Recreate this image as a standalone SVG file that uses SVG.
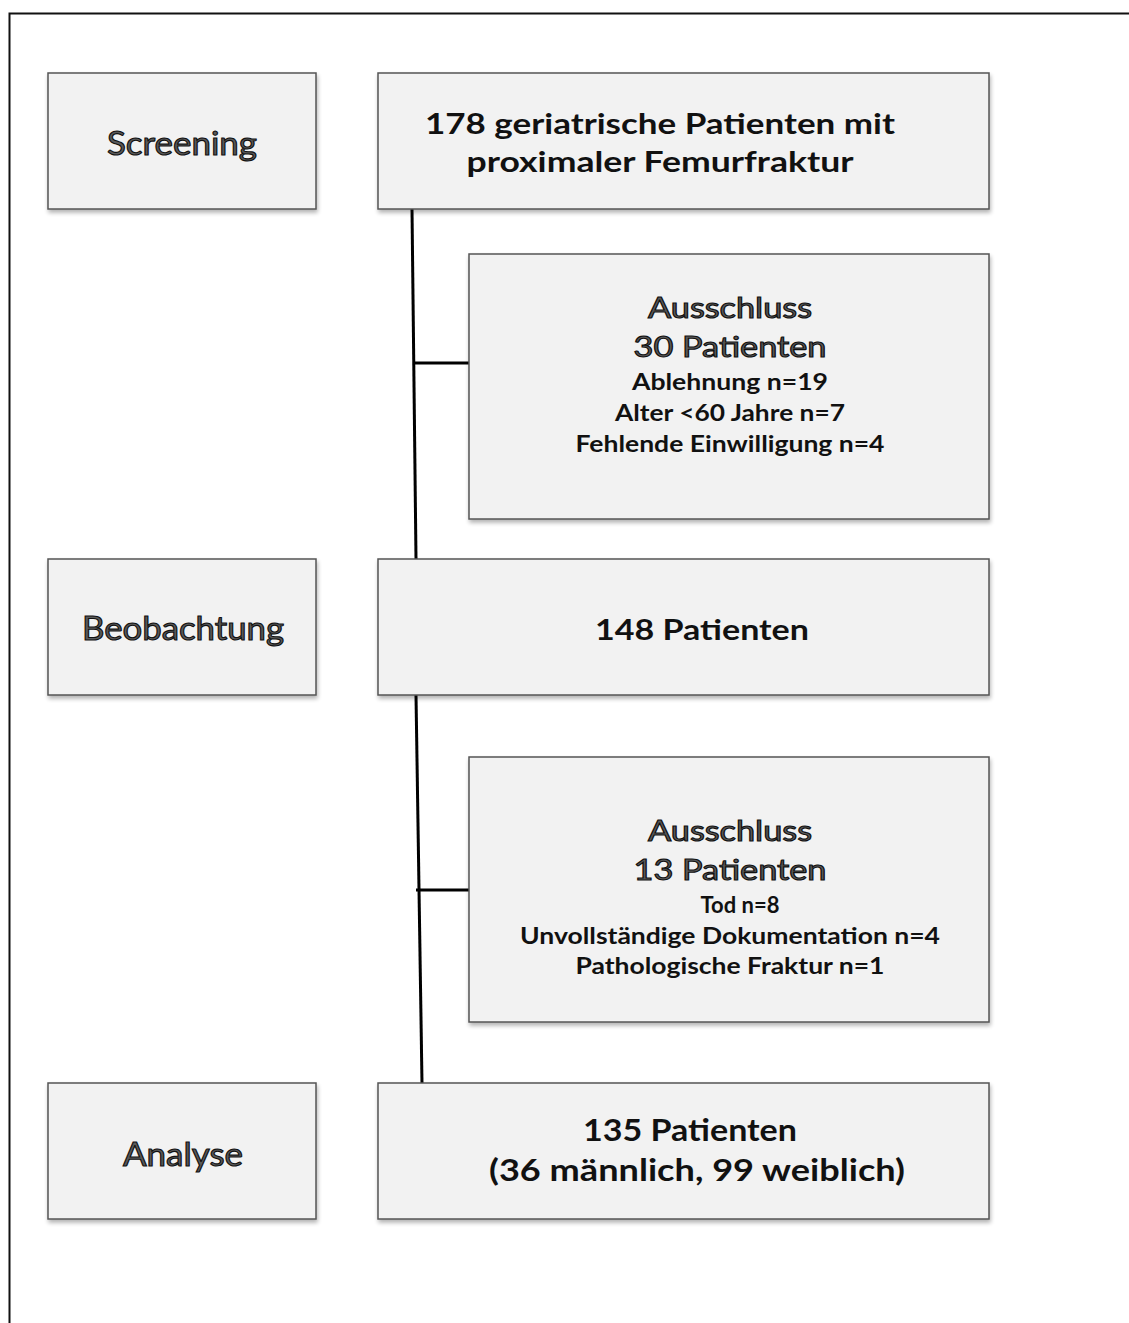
<svg xmlns="http://www.w3.org/2000/svg" width="1129" height="1323" viewBox="0 0 1129 1323">
<defs>
<filter id="sh" x="-5%" y="-5%" width="115%" height="120%">
<feGaussianBlur in="SourceAlpha" stdDeviation="2"/>
<feOffset dx="1" dy="3" result="o"/>
<feComponentTransfer><feFuncA type="linear" slope="0.3"/></feComponentTransfer>
<feMerge><feMergeNode/><feMergeNode in="SourceGraphic"/></feMerge>
</filter>
</defs>
<style>
.box{fill:#f2f2f2;stroke:#555;stroke-width:1.5;filter:url(#sh)}
.t{font-family:Lato,"Open Sans","Liberation Sans",sans-serif;text-anchor:middle}
.ol{fill:#5a5a5a;stroke:#111;stroke-width:1.1;font-weight:normal}
.b{fill:#111;font-weight:bold}
.c{fill:none;stroke:#000;stroke-width:3}
</style>
<rect width="1129" height="1323" fill="#fff"/>
<path d="M9.5 1323 V13.5 H1129" fill="none" stroke="#111" stroke-width="2"/>
<g id="connectors">
<path class="c" d="M412 209 L416 559"/>
<path class="c" d="M413 363 H469"/>
<path class="c" d="M416 695 L422 1083"/>
<path class="c" d="M416 890 H469"/>
</g>
<g id="screening"><rect class="box" x="48" y="73" width="268" height="136"/>
<text class="t ol" x="182" y="155" font-size="32" textLength="150" lengthAdjust="spacingAndGlyphs">Screening</text></g>
<g id="n178"><rect class="box" x="378" y="73" width="611" height="136"/>
<text class="t b" x="660" y="134" font-size="28" textLength="470" lengthAdjust="spacingAndGlyphs">178 geriatrische Patienten mit</text>
<text class="t b" x="660" y="172" font-size="28" textLength="387" lengthAdjust="spacingAndGlyphs">proximaler Femurfraktur</text></g>
<g id="ex1"><rect class="box" x="469" y="254" width="520" height="265"/>
<text class="t ol" x="730" y="318" font-size="28" textLength="164" lengthAdjust="spacingAndGlyphs">Ausschluss</text>
<text class="t ol" x="730" y="357" font-size="28" textLength="193" lengthAdjust="spacingAndGlyphs">30 Patienten</text>
<text class="t b" x="730" y="390" font-size="22" textLength="196" lengthAdjust="spacingAndGlyphs">Ablehnung n=19</text>
<text class="t b" x="730" y="421" font-size="22" textLength="230" lengthAdjust="spacingAndGlyphs">Alter &lt;60 Jahre n=7</text>
<text class="t b" x="730" y="452" font-size="22" textLength="309" lengthAdjust="spacingAndGlyphs">Fehlende Einwilligung n=4</text></g>
<g id="beobachtung"><rect class="box" x="48" y="559" width="268" height="136"/>
<text class="t ol" x="183" y="640" font-size="32" textLength="202" lengthAdjust="spacingAndGlyphs">Beobachtung</text></g>
<g id="n148"><rect class="box" x="378" y="559" width="611" height="136"/>
<text class="t b" x="702" y="640" font-size="28" textLength="214" lengthAdjust="spacingAndGlyphs">148 Patienten</text></g>
<g id="ex2"><rect class="box" x="469" y="757" width="520" height="265"/>
<text class="t ol" x="730" y="841" font-size="28" textLength="164" lengthAdjust="spacingAndGlyphs">Ausschluss</text>
<text class="t ol" x="730" y="880" font-size="28" textLength="193" lengthAdjust="spacingAndGlyphs">13 Patienten</text>
<text class="t b" x="740" y="913" font-size="22">Tod n=8</text>
<text class="t b" x="730" y="944" font-size="22" textLength="420" lengthAdjust="spacingAndGlyphs">Unvollständige Dokumentation n=4</text>
<text class="t b" x="730" y="974" font-size="22" textLength="309" lengthAdjust="spacingAndGlyphs">Pathologische Fraktur n=1</text></g>
<g id="analyse"><rect class="box" x="48" y="1083" width="268" height="136"/>
<text class="t ol" x="183" y="1166" font-size="32" textLength="120" lengthAdjust="spacingAndGlyphs">Analyse</text></g>
<g id="n135"><rect class="box" x="378" y="1083" width="611" height="136"/>
<text class="t b" x="690" y="1141" font-size="31" textLength="214" lengthAdjust="spacingAndGlyphs">135 Patienten</text>
<text class="t b" x="697" y="1181" font-size="31" textLength="416" lengthAdjust="spacingAndGlyphs">(36 männlich, 99 weiblich)</text></g>
</svg>
